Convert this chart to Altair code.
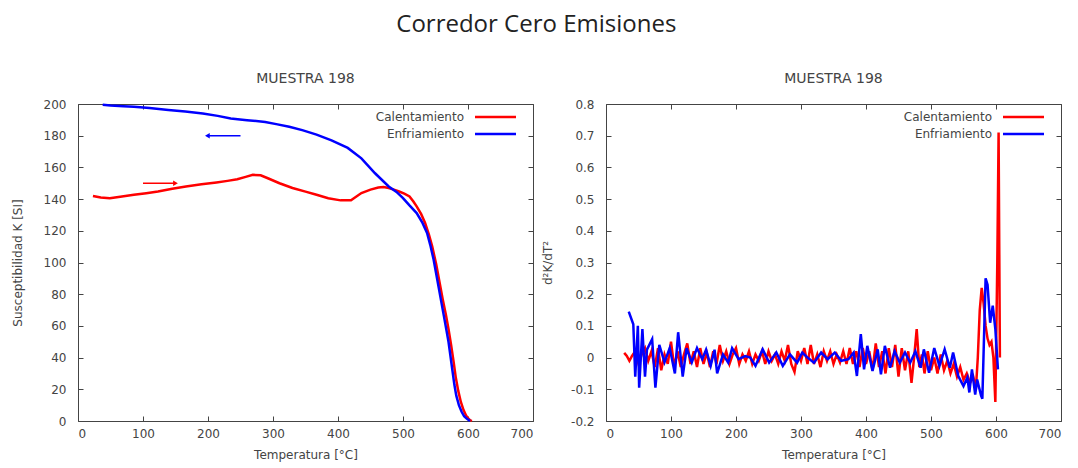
import altair as alt
import pandas as pd

# ---------------- data: left panel (susceptibility) ----------------
heat_T = [23, 35, 49, 65, 86, 105, 123, 145, 166, 190, 213, 230, 245, 258, 269, 281, 293, 310, 330, 350,
          367, 385, 404, 420, 436, 450, 462, 470, 478, 486, 494, 502, 510, 516, 521, 528, 534, 540, 545,
          551, 556, 561, 566, 570, 574, 578, 581, 585, 589, 593, 597, 600, 603, 606]
heat_K = [142, 141, 140.6, 141.5, 142.7, 143.7, 144.8, 146.5, 148, 149.3, 150.5, 151.5, 152.5, 154, 155.3,
          155, 153, 150, 147, 144.7, 142.7, 140.5, 139.2, 139.2, 143.8, 146, 147.3, 147.6, 147, 146, 144.8,
          143.5, 141.7, 138.5, 135.4, 130.5, 125, 117.5, 110, 99, 88, 77, 67, 58, 48, 37, 28, 19, 12, 7,
          3.5, 1.8, 0.6, 0]

cool_T = [38, 50, 70, 86, 110, 139, 165, 192, 215, 235, 260, 288, 305, 325, 345, 367, 390, 415, 436, 457,
          478, 490, 500, 510, 521, 530, 537, 542, 547, 551, 555, 559, 563, 567, 570, 573, 576, 579, 582,
          586, 590, 594, 598, 603]
cool_K = [199.5, 199, 198.6, 198.3, 197.5, 196.2, 195.2, 194, 192.5, 190.8, 189.8, 188.7, 187.3, 185.6,
          183.5, 180.7, 177, 172.3, 165.7, 156.3, 148, 144.5, 140.6, 136, 131.2, 125, 118.7, 111, 102, 93,
          84, 75, 66, 57, 50, 41, 32, 23, 16, 10, 6, 3, 1.5, 0]

# direction arrows (start T, end T, K)
arrow_heat = [100, 150, 150]
arrow_cool = [250, 199, 180]

# ---------------- data: right panel (second derivative) ----------------
d2_heat_T = [28, 32, 36, 40, 45, 50, 55, 60, 65, 70, 75, 80, 85, 90, 95, 100, 105, 110, 115, 120, 125, 130,
             135, 140, 145, 150, 155, 160, 165, 170, 175, 180, 185, 190, 195, 200, 205, 210, 215, 220, 225,
             230, 235, 240, 245, 250, 255, 260, 265, 270, 275, 280, 285, 290, 295, 300, 305, 310, 315, 320,
             325, 330, 335, 340, 345, 350, 355, 360, 365, 370, 375, 380, 385, 390, 395, 400, 405, 410, 415,
             420, 425, 430, 435, 440, 445, 450, 455, 460, 465, 470, 474, 478, 482, 486, 490, 495, 500, 505,
             510, 515, 520, 525, 530, 535, 540, 545, 550, 555, 560, 565, 569, 572, 575, 578, 581, 584, 587,
             590, 593, 596, 599, 602, 604, 606]
d2_heat_V = [0.015, 0.005, -0.01, 0.005, 0.02, -0.02, 0.01, 0.03, -0.01, 0.02, -0.03, 0.03, -0.04, 0.01,
             -0.02, 0.05, -0.03, 0.02, -0.03, 0.01, 0.045, -0.02, 0.02, -0.03, 0.03, -0.02, 0.015, -0.03,
             0.02, -0.02, 0.04, -0.01, 0.02, -0.02, 0.01, 0.03, -0.02, 0.01, -0.01, 0.02, -0.02, 0.01,
             -0.01, 0.02, -0.02, 0.02, -0.01, 0.01, -0.02, 0.02, -0.01, 0.04, -0.02, -0.045, 0.02, -0.01,
             0.03, -0.02, 0.04, -0.02, 0.01, -0.03, 0.02, -0.01, 0.02, -0.02, 0.01, -0.015, 0.02, -0.02,
             0.03, -0.02, 0.02, -0.03, 0.03, -0.02, 0.02, -0.04, 0.045, -0.03, 0.02, -0.05, 0.03, -0.03,
             0.04, -0.06, 0.03, -0.04, 0.02, -0.08, 0.0, 0.09, -0.03, 0.01, -0.05, 0.02, -0.04, 0.0, -0.05,
             0.01, -0.04, -0.01, -0.05, -0.02, -0.06, -0.03, -0.07, -0.05, -0.08, -0.06, -0.1, 0.0, 0.15,
             0.22, 0.17, 0.1, 0.06, 0.04, 0.05, 0.0, -0.14, 0.3, 0.71, 0.0]

d2_cool_T = [35, 42, 45, 49, 51, 56, 60, 63, 71, 76, 82, 90, 98, 106, 111, 118, 124, 132, 140, 148, 154,
             161, 167, 171, 180, 188, 194, 204, 214, 222, 230, 241, 251, 262, 272, 283, 294, 302, 310, 320,
             331, 341, 352, 362, 373, 381, 386, 392, 397, 402, 410, 418, 423, 429, 437, 444, 452, 460, 468,
             476, 484, 489, 497, 505, 513, 521, 529, 534, 542, 550, 556, 559, 563, 568, 571, 577, 579, 584,
             587, 591, 595, 599, 603]
d2_cool_V = [0.145, 0.105, -0.06, 0.1, -0.095, 0.09, -0.06, 0.025, 0.058, -0.095, 0.04, -0.015, 0.03,
             -0.05, 0.08, -0.06, 0.03, -0.015, 0.03, -0.005, 0.025, -0.026, 0.025, -0.05, 0.01, -0.016,
             0.03, -0.005, 0.005, 0.0, -0.026, 0.026, -0.016, 0.016, -0.026, 0.01, -0.016, 0.016, 0.0,
             -0.016, 0.016, -0.005, 0.016, -0.01, -0.005, 0.016, -0.058, 0.074, -0.037, 0.037, -0.042,
             0.026, -0.053, 0.037, -0.032, 0.02, -0.016, 0.016, -0.016, 0.02, -0.032, 0.026, -0.048, 0.03,
             -0.026, 0.026, -0.032, 0.016, -0.058, -0.09, -0.063, -0.11, -0.037, -0.117, -0.069, -0.12,
             -0.13, 0.25, 0.23, 0.11, 0.164, 0.09, -0.037]

series_names = ["Calentamiento", "Enfriamiento"]
series_colors = ["#ff0000", "#0000ff"]

x_ticks = list(range(0, 701, 100))
left_y_ticks = list(range(0, 201, 20))
right_y_ticks = [round(-0.2 + 0.1 * i, 1) for i in range(11)]

W, H = 455, 317
FONT = "DejaVu Sans"
TXT = "#444444"
AX = dict(labelFont=FONT, labelFontSize=12, labelColor=TXT, titleFont=FONT, titleFontSize=12,
          titleFontWeight="normal", titleColor=TXT, tickColor="#444444", grid=False, domain=False,
          tickSize=5, offset=-5)

color_scale = alt.Scale(domain=series_names, range=series_colors)
one_row = pd.DataFrame({"a": [0]})


def frame_df(T1, V1, T2, V2):
    a = pd.DataFrame({"T": T1, "V": V1, "s": series_names[0]})
    b = pd.DataFrame({"T": T2, "V": V2, "s": series_names[1]})
    return pd.concat([a, b], ignore_index=True)


def panel(df, ydomain, yticks, ytitle, ylabelexpr=None, extra=None, title_pad=19):
    xs = alt.Scale(domain=[0, 700], nice=False, zero=False)
    ys = alt.Scale(domain=ydomain, nice=False, zero=False)
    yax_kwargs = dict(AX, title=ytitle, values=yticks, labelPadding=12, titlePadding=title_pad)
    if ylabelexpr:
        yax_kwargs["labelExpr"] = ylabelexpr
    lines = alt.Chart(df).mark_line(strokeWidth=2.5).encode(
        x=alt.X("T:Q", scale=xs, axis=alt.Axis(**dict(AX, title="Temperatura [°C]", values=x_ticks,
                                                        labelPadding=7, titlePadding=10))),
        y=alt.Y("V:Q", scale=ys, axis=alt.Axis(**yax_kwargs)),
        color=alt.Color("s:N", scale=color_scale, legend=None),
        detail="s:N",
    )
    mirror = alt.Chart(df).mark_line(opacity=0).encode(
        x=alt.X("T:Q", scale=xs, axis=alt.Axis(**dict(AX, orient="top", values=x_ticks, labels=False,
                                                        title=None))),
        y=alt.Y("V:Q", scale=ys, axis=alt.Axis(**dict(AX, orient="right", values=yticks, labels=False,
                                                        title=None))),
    )
    layers = [lines, mirror]
    # legend (drawn inside the plot, labels left of samples)
    for i, (name, col) in enumerate(zip(series_names, series_colors)):
        yy = 13 + 17 * i
        layers.append(alt.Chart(one_row).mark_text(text=name, align="right", baseline="middle", font=FONT,
                                                   fontSize=12, color=TXT).encode(
            x=alt.value(386), y=alt.value(yy)))
        layers.append(alt.Chart(one_row).mark_rule(color=col, strokeWidth=2.5).encode(
            x=alt.value(397), x2=alt.value(438), y=alt.value(yy)))
    if extra:
        layers += extra(xs, ys)
    return alt.layer(*layers).resolve_axis(x="independent", y="independent").properties(
        width=W, height=H,
        title=alt.TitleParams("MUESTRA 198", fontSize=14, font=FONT, fontWeight="normal", color=TXT,
                              anchor="middle", offset=12),
    )


def arrows(xs, ys):
    out = []
    for (t0, t1, k), col, shp in [(arrow_heat, series_colors[0], "triangle-right"),
                                  (arrow_cool, series_colors[1], "triangle-left")]:
        d = pd.DataFrame({"t0": [t0], "t1": [t1], "k": [k]})
        out.append(alt.Chart(d).mark_rule(color=col, strokeWidth=1.5).encode(
            x=alt.X("t0:Q", scale=xs, axis=None), x2="t1:Q", y=alt.Y("k:Q", scale=ys, axis=None)))
        out.append(alt.Chart(d).mark_point(shape=shp, filled=True, color=col, size=30, opacity=1).encode(
            x=alt.X("t1:Q", scale=xs, axis=None), y=alt.Y("k:Q", scale=ys, axis=None)))
    return out


left = panel(frame_df(heat_T, heat_K, cool_T, cool_K), [0, 200], left_y_ticks,
             "Susceptibilidad K [SI]", extra=arrows, title_pad=19)
right = panel(frame_df(d2_heat_T, d2_heat_V, d2_cool_T, d2_cool_V), [-0.2, 0.8], right_y_ticks,
              "d²K/dT²", ylabelexpr="replace(format(datum.value, '.1~f'), '\u2212', '-')", title_pad=16)

chart = alt.hconcat(left, right, spacing=73, bounds="flush").properties(
    title=alt.TitleParams("Corredor Cero Emisiones", fontSize=24, font="Open Sans", fontWeight="normal",
                          color="#222222", anchor="middle", offset=35),
    padding={"left": 10, "top": 12, "right": 5, "bottom": 5},
    background="white",
).configure_view(stroke="#444444", strokeWidth=1)

chart.save("out.html", embed_options={"renderer": "svg", "actions": False})
